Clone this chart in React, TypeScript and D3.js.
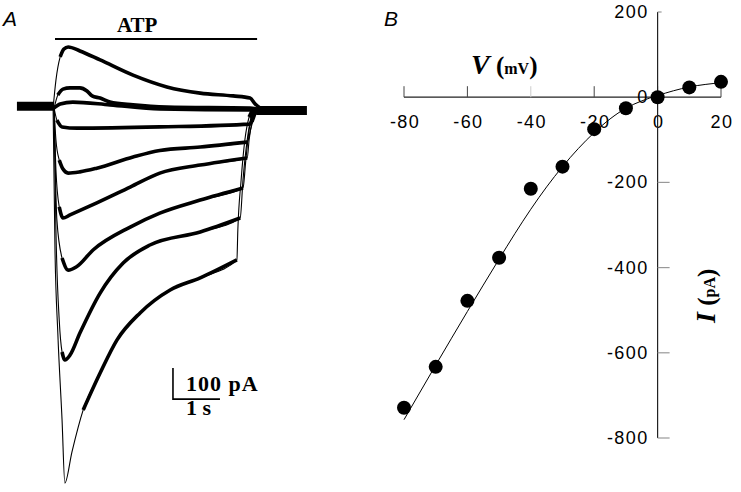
import React, { useEffect, useRef } from 'react';
import * as d3 from 'd3';

// Panel A: ATP-evoked currents, [time (s), current (pA)], ATP applied at t = 0
const trace1 = [[-0.04, 0], [0.02, 90], [0.11, 165], [0.19, 190], [0.28, 197], [0.53, 184], [0.96, 155], [1.66, 106], [2.38, 68], [3.09, 48], [3.79, 39], [4.15, 32], [4.26, 13], [4.36, 0]];
const trace2 = [[-0.02, 0], [0.06, 42], [0.17, 61], [0.32, 65], [0.53, 65], [0.68, 55], [0.79, 39], [0.96, 32], [1.17, 19], [1.66, 10], [2.38, 3], [4.15, 0], [4.28, -3]];
const trace3 = [[-0.02, 0], [0.11, 13], [0.38, 19], [1.17, 10], [2.23, -3], [4.15, -6], [4.28, -3]];
const trace4 = [[-0.02, 0], [0.04, -39], [0.15, -61], [0.47, -65], [2.23, -61], [4.15, -52], [4.23, -19], [4.32, -3]];
const trace5 = [[-0.02, 0], [0.02, -103], [0.09, -168], [0.17, -197], [0.28, -210], [0.53, -206], [0.89, -194], [1.66, -158], [2.23, -137], [3.09, -126], [4.09, -110], [4.17, -65], [4.26, -16], [4.32, -3]];
const trace6 = [[-0.02, 0], [0.02, -200], [0.09, -319], [0.17, -355], [0.32, -345], [0.89, -306], [1.6, -255], [2.23, -210], [3.09, -184], [4.09, -161], [4.13, -103], [4.19, -45], [4.28, -6]];
const trace7 = [[-0.02, 0], [0.04, -361], [0.15, -484], [0.28, -523], [0.45, -513], [0.81, -458], [1.6, -384], [2.23, -339], [3.09, -297], [4.0, -258], [4.06, -168], [4.13, -71], [4.21, -16], [4.3, -3]];
const trace8 = [[-0.02, 0], [0.02, -394], [0.09, -684], [0.15, -787], [0.21, -813], [0.32, -797], [0.53, -726], [0.96, -597], [1.45, -500], [2.02, -442], [3.09, -400], [3.94, -355], [4.0, -232], [4.09, -103], [4.17, -32], [4.26, -3]];
const trace9 = [[-0.04, 0], [0.0, -458], [0.06, -726], [0.15, -1006], [0.21, -1210], [0.36, -1110], [0.6, -974], [0.96, -855], [1.32, -748], [1.81, -661], [2.45, -587], [3.09, -548], [3.87, -490], [3.89, -394], [3.96, -232], [4.04, -103], [4.13, -29], [4.21, -3]];
const traces = [trace1, trace2, trace3, trace4, trace5, trace6, trace7, trace8, trace9];

const baselinePre = [[-0.81, 6], [-0.02, 6]];
const baselinePost = [[4.28, -8], [5.36, -8]];
const atpWindow = [0, 4.3];
const scaleBarOrigin = [2.51, -939];
const scaleBarTime = 1;
const scaleBarCurrent = 100;

// Panel B: I-V relation
const voltages = [-80, -70, -60, -50, -40, -30, -20, -10, 0, 10, 20];
const peakCurrents = [-729, -633, -478, -377, -215, -163, -75, -26, 0, 23, 36];
const fitCurrents = [-757, -629, -503, -380, -263, -163, -83, -26, 4, 24, 34];
const vTicks = [-80, -60, -40, -20, 0, 20];
const iTicks = [200, 0, -200, -400, -600, -800];

function App() {
  const svgRef = useRef(null);

  useEffect(() => {
    const svg = d3.select(svgRef.current);
    svg.selectAll('*').remove();

    const serif = "'Liberation Serif','Times New Roman',serif";
    const sans = "'Liberation Sans',Arial,sans-serif";

    // ---------- A ----------
    const xA = d3.scaleLinear().domain([0, 1]).range([55, 102]);
    const yA = d3.scaleLinear().domain([0, -100]).range([108, 139]);
    const lineA = d3.line().x(d => xA(d[0])).y(d => yA(d[1])).curve(d3.curveMonotoneX);

    const gA = svg.append('g');
    gA.append('text').attr('x', 3).attr('y', 26)
      .attr('font-family', sans).attr('font-style', 'italic').attr('font-size', 21)
      .text('A');

    gA.append('line')
      .attr('x1', xA(atpWindow[0])).attr('x2', xA(atpWindow[1]))
      .attr('y1', 39).attr('y2', 39)
      .attr('stroke', '#000').attr('stroke-width', 2);
    gA.append('text').attr('x', 117).attr('y', 32)
      .attr('font-family', serif).attr('font-weight', 'bold').attr('font-size', 21)
      .text('ATP');

    // noisy holding current outside the application
    [baselinePre, baselinePost].forEach(b => {
      gA.append('path').attr('d', d3.line().x(d => xA(d[0])).y(d => yA(d[1]))(b))
        .attr('fill', 'none').attr('stroke', '#000').attr('stroke-width', 9);
    });

    // split each trace: fast edges thin, slow parts thick (noise band)
    function slowRuns(pts) {
      const runs = [];
      let cur = [];
      for (let i = 1; i < pts.length; i++) {
        const dx = xA(pts[i][0]) - xA(pts[i - 1][0]);
        const dy = yA(pts[i][1]) - yA(pts[i - 1][1]);
        if (Math.abs(dy) < 3 * dx) {
          if (!cur.length) cur.push(pts[i - 1]);
          cur.push(pts[i]);
        } else if (cur.length) {
          runs.push(cur);
          cur = [];
        }
      }
      if (cur.length) runs.push(cur);
      return runs;
    }

    traces.forEach(tr => {
      gA.append('path').attr('d', lineA(tr))
        .attr('fill', 'none').attr('stroke', '#000').attr('stroke-width', 1.1);
      slowRuns(tr).forEach(run => {
        gA.append('path').attr('d', lineA(run))
          .attr('fill', 'none').attr('stroke', '#000').attr('stroke-width', 3.6)
          .attr('stroke-linejoin', 'round');
      });
    });

    const [sbT, sbI] = scaleBarOrigin;
    gA.append('path')
      .attr('d', `M${xA(sbT)},${yA(sbI + scaleBarCurrent)}V${yA(sbI)}H${xA(sbT + scaleBarTime)}`)
      .attr('fill', 'none').attr('stroke', '#000').attr('stroke-width', 1.6);
    gA.append('text').attr('x', 186).attr('y', 391)
      .attr('font-family', serif).attr('font-weight', 'bold').attr('font-size', 22)
      .attr('letter-spacing', 1)
      .text(`${scaleBarCurrent} pA`);
    gA.append('text').attr('x', 186).attr('y', 415)
      .attr('font-family', serif).attr('font-weight', 'bold').attr('font-size', 22)
      .text(`${scaleBarTime} s`);

    // ---------- B ----------
    const xB = d3.scaleLinear().domain([-80, 20]).range([404, 721]);
    const yB = d3.scaleLinear().domain([-800, 200]).range([438, 12]);
    const gB = svg.append('g');

    gB.append('text').attr('x', 384).attr('y', 26)
      .attr('font-family', sans).attr('font-style', 'italic').attr('font-size', 21)
      .text('B');

    // V axis, ticks pointing up
    gB.append('line')
      .attr('x1', xB(-80)).attr('x2', xB(20)).attr('y1', yB(0)).attr('y2', yB(0))
      .attr('stroke', '#222').attr('stroke-width', 1.2);
    gB.selectAll('.vtick').data(vTicks).join('line')
      .attr('x1', d => xB(d)).attr('x2', d => xB(d))
      .attr('y1', yB(0)).attr('y2', yB(0) - 11)
      .attr('stroke', d => (d === -40 ? '#ccc' : '#444')).attr('stroke-width', 1);
    gB.selectAll('.vlab').data(vTicks).join('text')
      .attr('x', d => xB(d) + 1).attr('y', 128)
      .attr('text-anchor', 'middle')
      .attr('font-family', sans).attr('font-size', 18).attr('letter-spacing', 1.4)
      .text(d => d);

    // I axis, ticks pointing right
    gB.append('line')
      .attr('x1', xB(0)).attr('x2', xB(0)).attr('y1', yB(200)).attr('y2', yB(-800))
      .attr('stroke', '#222').attr('stroke-width', 1.2);
    gB.selectAll('.itick').data(iTicks.filter(d => d !== 0)).join('line')
      .attr('x1', xB(0)).attr('x2', d => xB(0) + (d === 200 ? 4 : 12))
      .attr('y1', d => yB(d)).attr('y2', d => yB(d))
      .attr('stroke', '#999').attr('stroke-width', 1.2);
    gB.selectAll('.ilab').data(iTicks).join('text')
      .attr('x', xB(0) - 9).attr('y', d => yB(d) + 6)
      .attr('text-anchor', 'end')
      .attr('font-family', sans).attr('font-size', 18).attr('letter-spacing', 1.4)
      .text(d => d);

    // axis titles
    const vt = gB.append('text').attr('x', 471).attr('y', 74)
      .attr('font-family', serif).attr('font-weight', 'bold');
    vt.append('tspan').attr('font-style', 'italic').attr('font-size', 28).text('V');
    vt.append('tspan').attr('font-size', 25).text(' (');
    vt.append('tspan').attr('font-size', 16).text('mV');
    vt.append('tspan').attr('font-size', 25).text(')');

    const it = gB.append('text').attr('transform', 'translate(715,323) rotate(-90)')
      .attr('font-family', serif).attr('font-weight', 'bold');
    it.append('tspan').attr('font-style', 'italic').attr('font-size', 28).text('I');
    it.append('tspan').attr('font-size', 25).text(' (');
    it.append('tspan').attr('font-size', 16).text('pA');
    it.append('tspan').attr('font-size', 25).text(')');

    // fitted curve and measured points
    const fit = voltages.map((v, i) => [v, fitCurrents[i]]);
    gB.append('path')
      .attr('d', d3.line().x(d => xB(d[0])).y(d => yB(d[1])).curve(d3.curveNatural)(fit))
      .attr('fill', 'none').attr('stroke', '#000').attr('stroke-width', 1);

    gB.selectAll('.pt').data(voltages).join('circle')
      .attr('cx', d => xB(d)).attr('cy', (d, i) => yB(peakCurrents[i]))
      .attr('r', 7).attr('fill', '#000');

    return () => {
      svg.selectAll('*').remove();
    };
  }, []);

  return (
    <svg ref={svgRef} width={741} height={492}
      style={{ position: 'absolute', left: 0, top: 0, background: '#fff' }} />
  );
}

export default App;
